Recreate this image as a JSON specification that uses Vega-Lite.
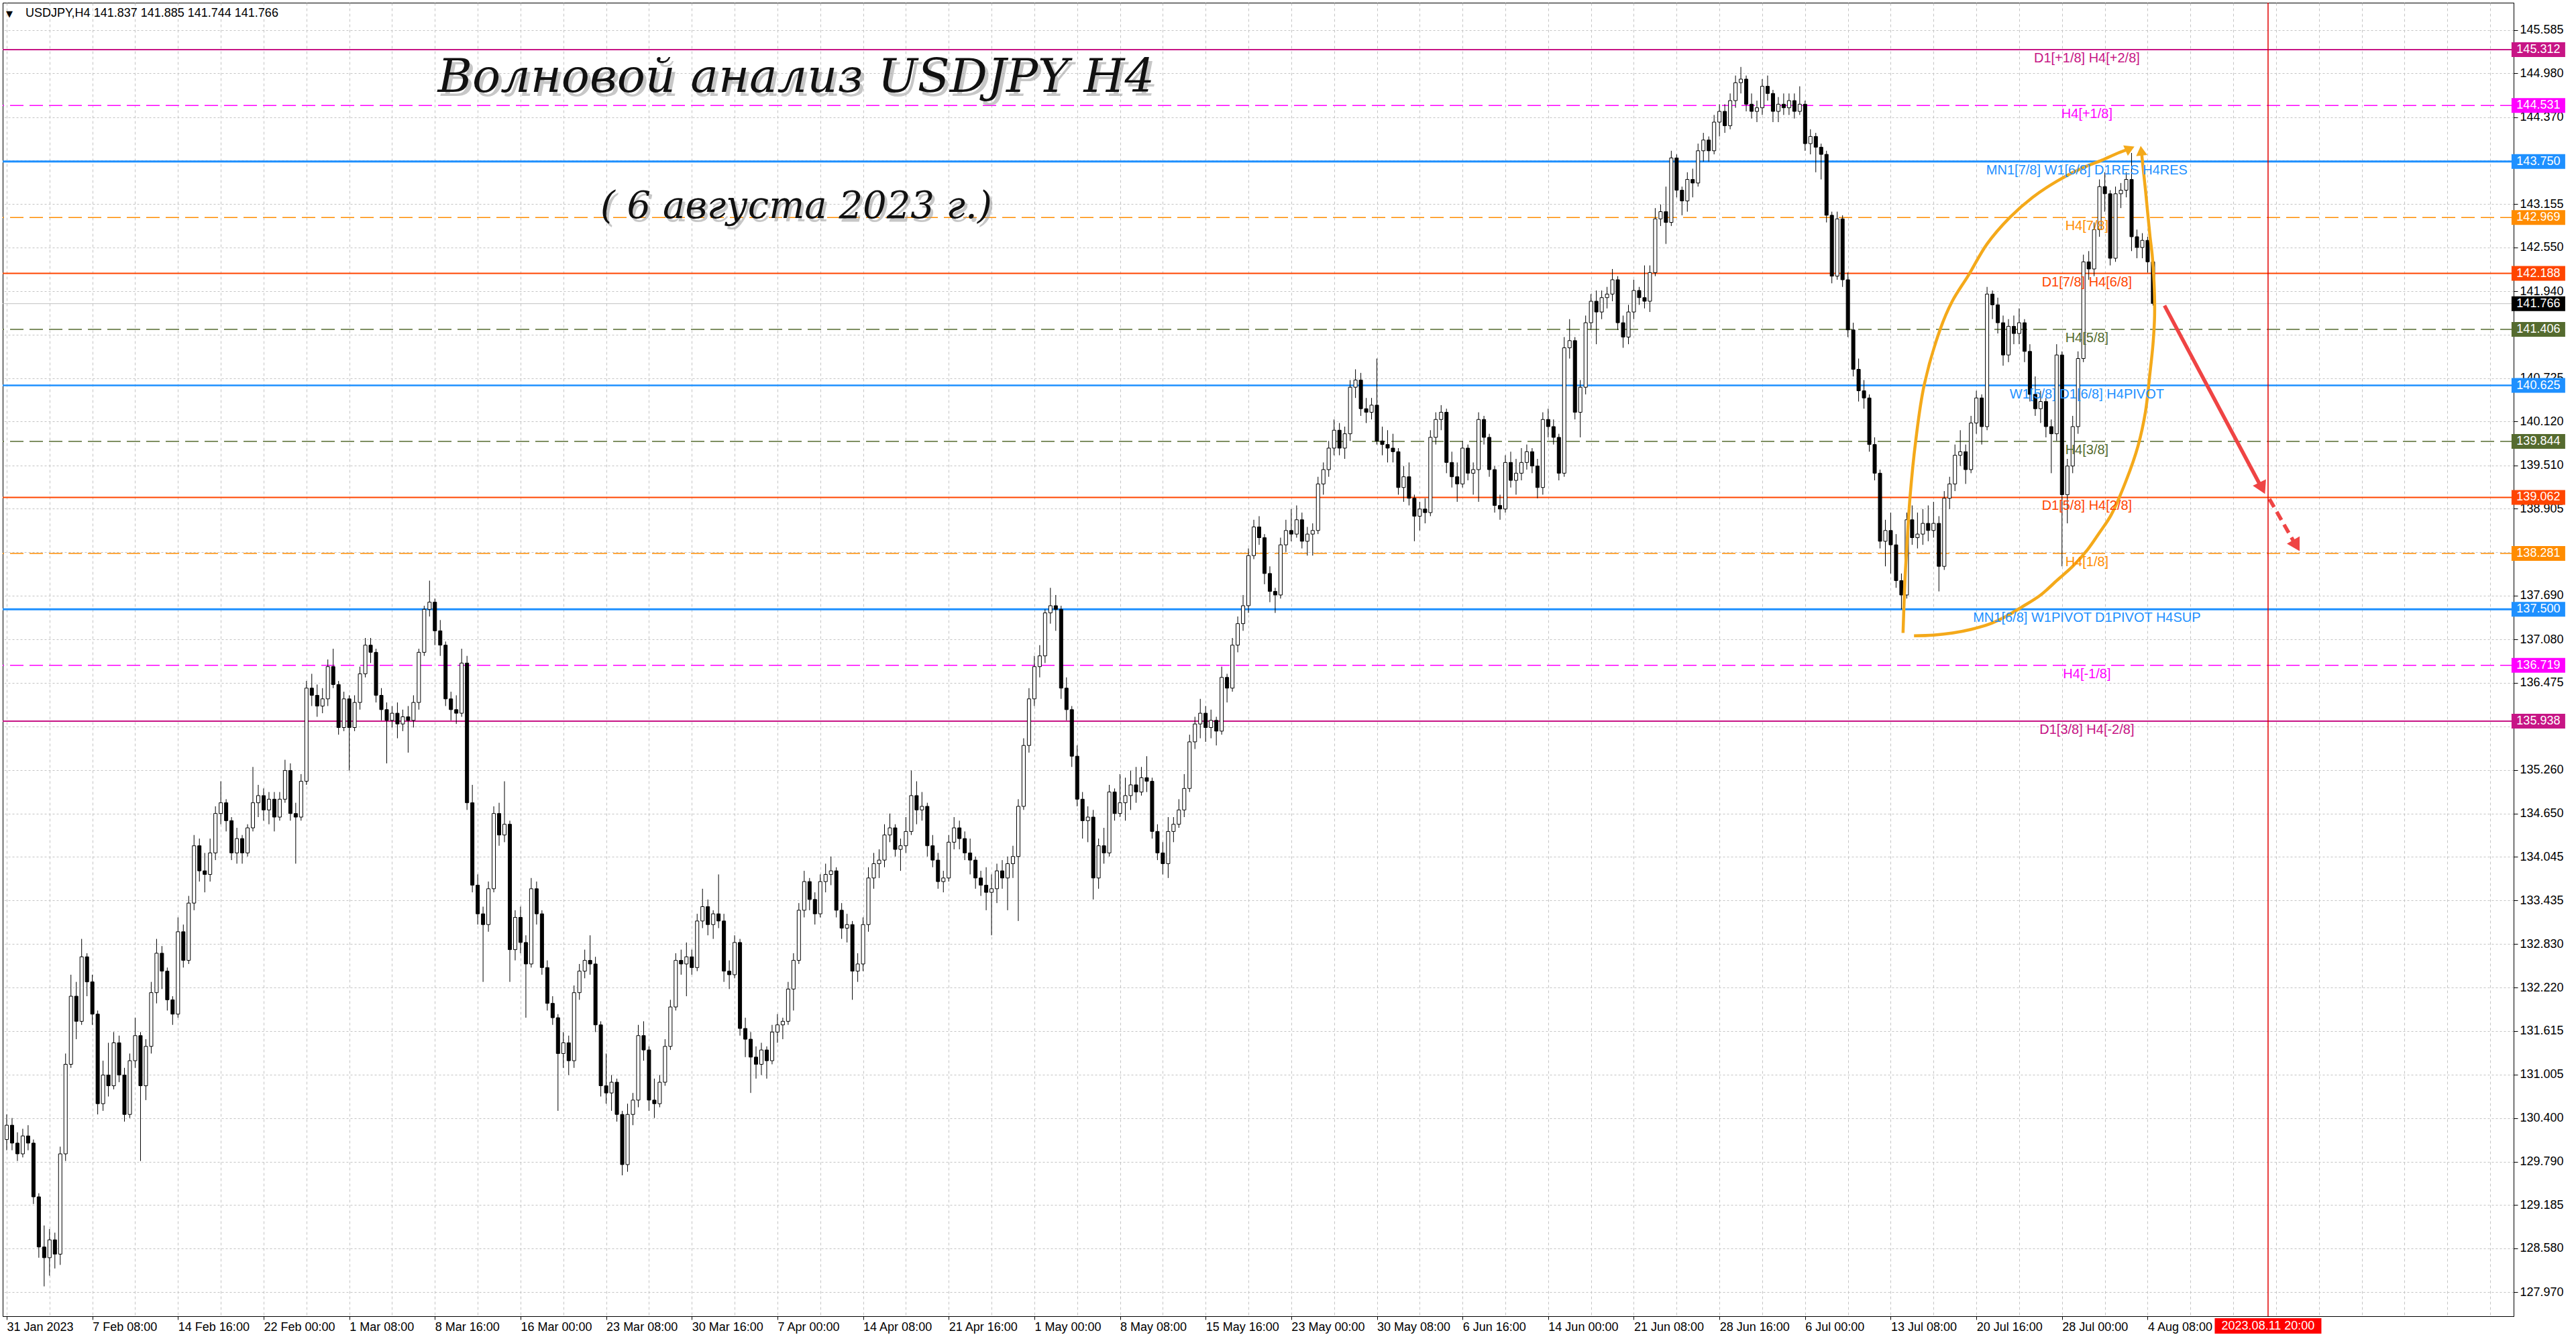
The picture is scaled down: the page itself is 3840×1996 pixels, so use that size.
{
  "$schema": "https://vega.github.io/schema/vega-lite/v6.json",
  "description": "USDJPY H4 wave analysis, 6 August 2023",
  "width": 3743,
  "height": 1958,
  "autosize": {"type": "none"},
  "padding": {"left": 4, "top": 4, "right": 93, "bottom": 34},
  "background": "#ffffff",
  "config": {
    "font": "Liberation Sans",
    "view": {"stroke": "#000000", "strokeWidth": 1}
  },
  "datasets": {
    "levels": [
      {"p": 145.312, "t": "D1[+1/8] H4[+2/8]", "tf": "D1"},
      {"p": 144.531, "t": "H4[+1/8]", "tf": "H4"},
      {"p": 143.750, "t": "MN1[7/8] W1[6/8] D1RES H4RES", "tf": "MN1"},
      {"p": 142.969, "t": "H4[7/8]", "tf": "H4"},
      {"p": 142.188, "t": "D1[7/8] H4[6/8]", "tf": "D1"},
      {"p": 141.406, "t": "H4[5/8]", "tf": "H4"},
      {"p": 140.625, "t": "W1[5/8] D1[6/8] H4PIVOT", "tf": "W1"},
      {"p": 139.844, "t": "H4[3/8]", "tf": "H4"},
      {"p": 139.062, "t": "D1[5/8] H4[2/8]", "tf": "D1"},
      {"p": 138.281, "t": "H4[1/8]", "tf": "H4"},
      {"p": 137.500, "t": "MN1[6/8] W1PIVOT D1PIVOT H4SUP", "tf": "MN1"},
      {"p": 136.719, "t": "H4[-1/8]", "tf": "H4"},
      {"p": 135.938, "t": "D1[3/8] H4[-2/8]", "tf": "D1"}
    ],
    "candles": [
      {"i":0,"o":130.10,"h":130.45,"l":129.95,"c":130.30},
      {"i":2,"o":130.30,"h":130.40,"l":129.95,"c":130.05},
      {"i":4,"o":130.05,"h":130.20,"l":129.80,"c":129.90},
      {"i":6,"o":129.90,"h":130.25,"l":129.85,"c":130.15},
      {"i":8,"o":130.15,"h":130.30,"l":129.95,"c":130.05},
      {"i":10,"o":130.05,"h":130.10,"l":129.20,"c":129.30},
      {"i":12,"o":129.30,"h":129.35,"l":128.45,"c":128.60},
      {"i":14,"o":128.60,"h":128.90,"l":128.05,"c":128.45},
      {"i":16,"o":128.45,"h":128.85,"l":128.20,"c":128.70},
      {"i":18,"o":128.70,"h":128.80,"l":128.30,"c":128.50},
      {"i":20,"o":128.50,"h":130.00,"l":128.35,"c":129.90},
      {"i":22,"o":129.90,"h":131.30,"l":129.80,"c":131.15},
      {"i":24,"o":131.15,"h":132.40,"l":131.10,"c":132.10},
      {"i":26,"o":132.10,"h":132.30,"l":131.50,"c":131.75},
      {"i":28,"o":131.75,"h":132.90,"l":131.70,"c":132.65},
      {"i":30,"o":132.65,"h":132.70,"l":132.10,"c":132.30},
      {"i":32,"o":132.30,"h":132.40,"l":131.70,"c":131.85},
      {"i":34,"o":131.85,"h":131.90,"l":130.45,"c":130.60},
      {"i":36,"o":130.60,"h":131.20,"l":130.50,"c":131.00},
      {"i":38,"o":131.00,"h":131.45,"l":130.70,"c":130.85},
      {"i":40,"o":130.85,"h":131.60,"l":130.80,"c":131.45},
      {"i":42,"o":131.45,"h":131.55,"l":130.90,"c":131.00},
      {"i":44,"o":131.00,"h":131.10,"l":130.35,"c":130.45},
      {"i":46,"o":130.45,"h":131.30,"l":130.40,"c":131.20},
      {"i":48,"o":131.20,"h":131.80,"l":131.10,"c":131.55},
      {"i":50,"o":131.55,"h":131.60,"l":129.80,"c":130.85},
      {"i":52,"o":130.85,"h":131.50,"l":130.65,"c":131.40},
      {"i":54,"o":131.40,"h":132.30,"l":131.30,"c":132.15},
      {"i":56,"o":132.15,"h":132.90,"l":132.00,"c":132.70},
      {"i":58,"o":132.70,"h":132.80,"l":132.20,"c":132.45},
      {"i":60,"o":132.45,"h":132.50,"l":131.90,"c":132.05},
      {"i":62,"o":132.05,"h":132.10,"l":131.70,"c":131.85},
      {"i":64,"o":131.85,"h":133.20,"l":131.80,"c":133.00},
      {"i":66,"o":133.00,"h":133.10,"l":132.50,"c":132.60},
      {"i":68,"o":132.60,"h":133.50,"l":132.55,"c":133.40},
      {"i":70,"o":133.40,"h":134.35,"l":133.30,"c":134.20},
      {"i":72,"o":134.20,"h":134.30,"l":133.70,"c":133.85},
      {"i":74,"o":133.85,"h":134.10,"l":133.55,"c":133.80},
      {"i":76,"o":133.80,"h":134.30,"l":133.70,"c":134.10},
      {"i":78,"o":134.10,"h":134.75,"l":134.00,"c":134.65},
      {"i":80,"o":134.65,"h":135.10,"l":134.50,"c":134.80},
      {"i":82,"o":134.80,"h":134.85,"l":134.40,"c":134.55},
      {"i":84,"o":134.55,"h":134.60,"l":134.00,"c":134.10},
      {"i":86,"o":134.10,"h":134.45,"l":133.95,"c":134.30},
      {"i":88,"o":134.30,"h":134.35,"l":133.95,"c":134.10},
      {"i":90,"o":134.10,"h":134.50,"l":134.05,"c":134.45},
      {"i":92,"o":134.45,"h":135.30,"l":134.40,"c":134.80},
      {"i":94,"o":134.80,"h":135.05,"l":134.60,"c":134.90},
      {"i":96,"o":134.90,"h":135.00,"l":134.55,"c":134.70},
      {"i":98,"o":134.70,"h":134.95,"l":134.50,"c":134.85},
      {"i":100,"o":134.85,"h":134.95,"l":134.40,"c":134.60},
      {"i":102,"o":134.60,"h":134.95,"l":134.55,"c":134.85},
      {"i":104,"o":134.85,"h":135.40,"l":134.80,"c":135.25},
      {"i":106,"o":135.25,"h":135.35,"l":134.55,"c":134.65},
      {"i":108,"o":134.65,"h":134.80,"l":133.95,"c":134.60},
      {"i":110,"o":134.60,"h":135.20,"l":134.55,"c":135.10},
      {"i":112,"o":135.10,"h":136.50,"l":135.05,"c":136.40},
      {"i":114,"o":136.40,"h":136.60,"l":136.15,"c":136.30},
      {"i":116,"o":136.30,"h":136.45,"l":136.00,"c":136.15},
      {"i":118,"o":136.15,"h":136.40,"l":136.05,"c":136.25},
      {"i":120,"o":136.25,"h":136.80,"l":136.15,"c":136.70},
      {"i":122,"o":136.70,"h":136.95,"l":136.40,"c":136.45},
      {"i":124,"o":136.45,"h":136.50,"l":135.75,"c":135.85},
      {"i":126,"o":135.85,"h":136.35,"l":135.80,"c":136.25},
      {"i":128,"o":136.25,"h":136.30,"l":135.25,"c":135.85},
      {"i":130,"o":135.85,"h":136.30,"l":135.80,"c":136.20},
      {"i":132,"o":136.20,"h":136.70,"l":136.10,"c":136.60},
      {"i":134,"o":136.60,"h":137.10,"l":136.55,"c":137.00},
      {"i":136,"o":137.00,"h":137.10,"l":136.75,"c":136.90},
      {"i":138,"o":136.90,"h":136.95,"l":136.20,"c":136.30},
      {"i":140,"o":136.30,"h":136.40,"l":135.95,"c":136.10},
      {"i":142,"o":136.10,"h":136.20,"l":135.35,"c":135.95},
      {"i":144,"o":135.95,"h":136.15,"l":135.85,"c":136.05},
      {"i":146,"o":136.05,"h":136.20,"l":135.70,"c":135.90},
      {"i":148,"o":135.90,"h":136.10,"l":135.80,"c":136.00},
      {"i":150,"o":136.00,"h":136.15,"l":135.50,"c":135.95},
      {"i":152,"o":135.95,"h":136.30,"l":135.85,"c":136.20},
      {"i":154,"o":136.20,"h":136.95,"l":136.10,"c":136.90},
      {"i":156,"o":136.90,"h":137.55,"l":136.85,"c":137.50},
      {"i":158,"o":137.50,"h":137.90,"l":137.40,"c":137.60},
      {"i":160,"o":137.60,"h":137.65,"l":137.00,"c":137.20},
      {"i":162,"o":137.20,"h":137.35,"l":136.85,"c":137.00},
      {"i":164,"o":137.00,"h":137.05,"l":136.15,"c":136.25},
      {"i":166,"o":136.25,"h":136.35,"l":135.95,"c":136.10},
      {"i":168,"o":136.10,"h":136.30,"l":135.90,"c":136.05},
      {"i":170,"o":136.05,"h":136.95,"l":136.00,"c":136.75},
      {"i":172,"o":136.75,"h":136.85,"l":134.70,"c":134.80},
      {"i":174,"o":134.80,"h":135.05,"l":133.55,"c":133.65},
      {"i":176,"o":133.65,"h":133.80,"l":133.10,"c":133.25},
      {"i":178,"o":133.25,"h":133.35,"l":132.30,"c":133.10},
      {"i":180,"o":133.10,"h":133.70,"l":133.00,"c":133.60},
      {"i":182,"o":133.60,"h":134.75,"l":133.55,"c":134.65},
      {"i":184,"o":134.65,"h":134.80,"l":134.20,"c":134.35},
      {"i":186,"o":134.35,"h":135.10,"l":134.25,"c":134.50},
      {"i":188,"o":134.50,"h":134.55,"l":132.30,"c":132.75},
      {"i":190,"o":132.75,"h":133.30,"l":132.60,"c":133.20},
      {"i":192,"o":133.20,"h":133.35,"l":132.70,"c":132.85},
      {"i":194,"o":132.85,"h":132.95,"l":131.80,"c":132.55},
      {"i":196,"o":132.55,"h":133.75,"l":132.50,"c":133.60},
      {"i":198,"o":133.60,"h":133.70,"l":133.10,"c":133.25},
      {"i":200,"o":133.25,"h":133.30,"l":132.40,"c":132.50},
      {"i":202,"o":132.50,"h":132.60,"l":131.90,"c":132.00},
      {"i":204,"o":132.00,"h":132.10,"l":131.70,"c":131.80},
      {"i":206,"o":131.80,"h":131.85,"l":130.50,"c":131.30},
      {"i":208,"o":131.30,"h":131.60,"l":131.10,"c":131.45},
      {"i":210,"o":131.45,"h":131.55,"l":131.00,"c":131.20},
      {"i":212,"o":131.20,"h":132.25,"l":131.10,"c":132.15},
      {"i":214,"o":132.15,"h":132.55,"l":132.05,"c":132.45},
      {"i":216,"o":132.45,"h":132.75,"l":132.35,"c":132.60},
      {"i":218,"o":132.60,"h":132.95,"l":132.40,"c":132.55},
      {"i":220,"o":132.55,"h":132.65,"l":131.60,"c":131.70},
      {"i":222,"o":131.70,"h":131.75,"l":130.70,"c":130.85},
      {"i":224,"o":130.85,"h":131.30,"l":130.60,"c":130.75},
      {"i":226,"o":130.75,"h":131.00,"l":130.50,"c":130.90},
      {"i":228,"o":130.90,"h":130.95,"l":130.35,"c":130.45},
      {"i":230,"o":130.45,"h":130.50,"l":129.60,"c":129.75},
      {"i":232,"o":129.75,"h":130.60,"l":129.65,"c":130.45},
      {"i":234,"o":130.45,"h":130.75,"l":130.30,"c":130.65},
      {"i":236,"o":130.65,"h":131.70,"l":130.55,"c":131.55},
      {"i":238,"o":131.55,"h":131.75,"l":131.20,"c":131.35},
      {"i":240,"o":131.35,"h":131.40,"l":130.50,"c":130.65},
      {"i":242,"o":130.65,"h":130.95,"l":130.40,"c":130.60},
      {"i":244,"o":130.60,"h":131.00,"l":130.55,"c":130.90},
      {"i":246,"o":130.90,"h":131.50,"l":130.85,"c":131.40},
      {"i":248,"o":131.40,"h":132.05,"l":131.35,"c":131.95},
      {"i":250,"o":131.95,"h":132.70,"l":131.90,"c":132.60},
      {"i":252,"o":132.60,"h":132.75,"l":132.40,"c":132.55},
      {"i":254,"o":132.55,"h":132.85,"l":132.10,"c":132.65},
      {"i":256,"o":132.65,"h":132.75,"l":132.40,"c":132.50},
      {"i":258,"o":132.50,"h":133.25,"l":132.45,"c":133.15},
      {"i":260,"o":133.15,"h":133.60,"l":133.05,"c":133.35},
      {"i":262,"o":133.35,"h":133.45,"l":132.95,"c":133.10},
      {"i":264,"o":133.10,"h":133.30,"l":132.90,"c":133.25},
      {"i":266,"o":133.25,"h":133.80,"l":133.05,"c":133.15},
      {"i":268,"o":133.15,"h":133.25,"l":132.30,"c":132.45},
      {"i":270,"o":132.45,"h":132.60,"l":132.20,"c":132.40},
      {"i":272,"o":132.40,"h":132.95,"l":132.35,"c":132.85},
      {"i":274,"o":132.85,"h":132.90,"l":131.55,"c":131.65},
      {"i":276,"o":131.65,"h":131.80,"l":131.25,"c":131.50},
      {"i":278,"o":131.50,"h":131.60,"l":130.75,"c":131.25},
      {"i":280,"o":131.25,"h":131.40,"l":130.95,"c":131.15},
      {"i":282,"o":131.15,"h":131.45,"l":131.00,"c":131.35},
      {"i":284,"o":131.35,"h":131.40,"l":130.95,"c":131.20},
      {"i":286,"o":131.20,"h":131.70,"l":131.15,"c":131.60},
      {"i":288,"o":131.60,"h":131.85,"l":131.45,"c":131.70},
      {"i":290,"o":131.70,"h":131.80,"l":131.50,"c":131.75},
      {"i":292,"o":131.75,"h":132.30,"l":131.70,"c":132.20},
      {"i":294,"o":132.20,"h":132.70,"l":131.90,"c":132.60},
      {"i":296,"o":132.60,"h":133.40,"l":132.55,"c":133.30},
      {"i":298,"o":133.30,"h":133.85,"l":133.20,"c":133.70},
      {"i":300,"o":133.70,"h":133.75,"l":133.30,"c":133.45},
      {"i":302,"o":133.45,"h":133.55,"l":133.10,"c":133.25},
      {"i":304,"o":133.25,"h":133.80,"l":133.20,"c":133.70},
      {"i":306,"o":133.70,"h":133.95,"l":133.55,"c":133.80},
      {"i":308,"o":133.80,"h":134.05,"l":133.65,"c":133.85},
      {"i":310,"o":133.85,"h":133.90,"l":133.20,"c":133.30},
      {"i":312,"o":133.30,"h":133.40,"l":132.90,"c":133.05},
      {"i":314,"o":133.05,"h":133.25,"l":132.85,"c":133.10},
      {"i":316,"o":133.10,"h":133.15,"l":132.05,"c":132.45},
      {"i":318,"o":132.45,"h":132.70,"l":132.30,"c":132.55},
      {"i":320,"o":132.55,"h":133.20,"l":132.45,"c":133.10},
      {"i":322,"o":133.10,"h":133.90,"l":133.00,"c":133.75},
      {"i":324,"o":133.75,"h":134.10,"l":133.60,"c":133.95},
      {"i":326,"o":133.95,"h":134.15,"l":133.75,"c":134.00},
      {"i":328,"o":134.00,"h":134.50,"l":133.90,"c":134.35},
      {"i":330,"o":134.35,"h":134.65,"l":134.25,"c":134.45},
      {"i":332,"o":134.45,"h":134.50,"l":134.05,"c":134.15},
      {"i":334,"o":134.15,"h":134.30,"l":133.85,"c":134.20},
      {"i":336,"o":134.20,"h":134.60,"l":134.10,"c":134.40},
      {"i":338,"o":134.40,"h":135.25,"l":134.35,"c":134.90},
      {"i":340,"o":134.90,"h":135.10,"l":134.50,"c":134.70},
      {"i":342,"o":134.70,"h":134.95,"l":134.55,"c":134.75},
      {"i":344,"o":134.75,"h":134.80,"l":134.05,"c":134.20},
      {"i":346,"o":134.20,"h":134.35,"l":133.90,"c":134.00},
      {"i":348,"o":134.00,"h":134.10,"l":133.60,"c":133.70},
      {"i":350,"o":133.70,"h":133.85,"l":133.55,"c":133.75},
      {"i":352,"o":133.75,"h":134.35,"l":133.70,"c":134.25},
      {"i":354,"o":134.25,"h":134.60,"l":134.15,"c":134.45},
      {"i":356,"o":134.45,"h":134.55,"l":134.15,"c":134.30},
      {"i":358,"o":134.30,"h":134.40,"l":134.00,"c":134.10},
      {"i":360,"o":134.10,"h":134.30,"l":133.80,"c":134.00},
      {"i":362,"o":134.00,"h":134.05,"l":133.60,"c":133.75},
      {"i":364,"o":133.75,"h":133.85,"l":133.50,"c":133.65},
      {"i":366,"o":133.65,"h":133.90,"l":133.30,"c":133.55},
      {"i":368,"o":133.55,"h":133.80,"l":132.95,"c":133.60},
      {"i":370,"o":133.60,"h":133.95,"l":133.40,"c":133.85},
      {"i":372,"o":133.85,"h":134.00,"l":133.60,"c":133.75},
      {"i":374,"o":133.75,"h":134.05,"l":133.30,"c":133.95},
      {"i":376,"o":133.95,"h":134.20,"l":133.75,"c":134.05},
      {"i":378,"o":134.05,"h":134.85,"l":133.15,"c":134.75},
      {"i":380,"o":134.75,"h":135.70,"l":134.70,"c":135.60},
      {"i":382,"o":135.60,"h":136.40,"l":135.50,"c":136.25},
      {"i":384,"o":136.25,"h":136.85,"l":136.15,"c":136.70},
      {"i":386,"o":136.70,"h":137.00,"l":136.55,"c":136.85},
      {"i":388,"o":136.85,"h":137.50,"l":136.75,"c":137.45},
      {"i":390,"o":137.45,"h":137.80,"l":137.30,"c":137.55},
      {"i":392,"o":137.55,"h":137.70,"l":137.20,"c":137.50},
      {"i":394,"o":137.50,"h":137.55,"l":136.25,"c":136.40},
      {"i":396,"o":136.40,"h":136.55,"l":135.95,"c":136.10},
      {"i":398,"o":136.10,"h":136.15,"l":135.30,"c":135.45},
      {"i":400,"o":135.45,"h":135.60,"l":134.75,"c":134.85},
      {"i":402,"o":134.85,"h":134.95,"l":134.30,"c":134.55},
      {"i":404,"o":134.55,"h":134.75,"l":134.25,"c":134.60},
      {"i":406,"o":134.60,"h":134.70,"l":133.45,"c":133.75},
      {"i":408,"o":133.75,"h":134.30,"l":133.60,"c":134.20},
      {"i":410,"o":134.20,"h":134.45,"l":133.95,"c":134.10},
      {"i":412,"o":134.10,"h":135.05,"l":134.05,"c":134.95},
      {"i":414,"o":134.95,"h":135.00,"l":134.55,"c":134.65},
      {"i":416,"o":134.65,"h":135.20,"l":134.60,"c":134.80},
      {"i":418,"o":134.80,"h":135.15,"l":134.55,"c":134.90},
      {"i":420,"o":134.90,"h":135.25,"l":134.70,"c":135.05},
      {"i":422,"o":135.05,"h":135.30,"l":134.80,"c":134.95},
      {"i":424,"o":134.95,"h":135.30,"l":134.90,"c":135.15},
      {"i":426,"o":135.15,"h":135.45,"l":134.95,"c":135.10},
      {"i":428,"o":135.10,"h":135.15,"l":134.30,"c":134.40},
      {"i":430,"o":134.40,"h":134.50,"l":134.00,"c":134.10},
      {"i":432,"o":134.10,"h":134.25,"l":133.80,"c":133.95},
      {"i":434,"o":133.95,"h":134.60,"l":133.75,"c":134.40},
      {"i":436,"o":134.40,"h":134.60,"l":134.25,"c":134.50},
      {"i":438,"o":134.50,"h":134.85,"l":134.45,"c":134.70},
      {"i":440,"o":134.70,"h":135.20,"l":134.60,"c":135.00},
      {"i":442,"o":135.00,"h":135.75,"l":134.95,"c":135.65},
      {"i":444,"o":135.65,"h":136.00,"l":135.55,"c":135.90},
      {"i":446,"o":135.90,"h":136.25,"l":135.70,"c":136.05},
      {"i":448,"o":136.05,"h":136.15,"l":135.65,"c":135.85},
      {"i":450,"o":135.85,"h":136.10,"l":135.70,"c":135.95},
      {"i":452,"o":135.95,"h":136.00,"l":135.60,"c":135.80},
      {"i":454,"o":135.80,"h":136.70,"l":135.75,"c":136.55},
      {"i":456,"o":136.55,"h":136.60,"l":136.20,"c":136.40},
      {"i":458,"o":136.40,"h":137.10,"l":136.35,"c":137.00},
      {"i":460,"o":137.00,"h":137.40,"l":136.90,"c":137.30},
      {"i":462,"o":137.30,"h":137.70,"l":137.20,"c":137.55},
      {"i":464,"o":137.55,"h":138.35,"l":137.45,"c":138.25},
      {"i":466,"o":138.25,"h":138.75,"l":138.20,"c":138.65},
      {"i":468,"o":138.65,"h":138.80,"l":138.40,"c":138.50},
      {"i":470,"o":138.50,"h":138.55,"l":137.85,"c":138.00},
      {"i":472,"o":138.00,"h":138.10,"l":137.60,"c":137.75},
      {"i":474,"o":137.75,"h":137.80,"l":137.45,"c":137.70},
      {"i":476,"o":137.70,"h":138.50,"l":137.65,"c":138.40},
      {"i":478,"o":138.40,"h":138.75,"l":138.30,"c":138.60},
      {"i":480,"o":138.60,"h":138.90,"l":138.45,"c":138.55},
      {"i":482,"o":138.55,"h":138.95,"l":138.50,"c":138.75},
      {"i":484,"o":138.75,"h":138.85,"l":138.35,"c":138.45},
      {"i":486,"o":138.45,"h":138.65,"l":138.25,"c":138.55},
      {"i":488,"o":138.55,"h":138.70,"l":138.25,"c":138.60},
      {"i":490,"o":138.60,"h":139.35,"l":138.55,"c":139.25},
      {"i":492,"o":139.25,"h":139.55,"l":139.10,"c":139.45},
      {"i":494,"o":139.45,"h":139.85,"l":139.35,"c":139.75},
      {"i":496,"o":139.75,"h":140.15,"l":139.65,"c":140.00},
      {"i":498,"o":140.00,"h":140.10,"l":139.65,"c":139.75},
      {"i":500,"o":139.75,"h":140.05,"l":139.60,"c":139.95},
      {"i":502,"o":139.95,"h":140.70,"l":139.85,"c":140.60},
      {"i":504,"o":140.60,"h":140.85,"l":140.45,"c":140.70},
      {"i":506,"o":140.70,"h":140.80,"l":140.20,"c":140.30},
      {"i":508,"o":140.30,"h":140.45,"l":140.10,"c":140.25},
      {"i":510,"o":140.25,"h":140.45,"l":140.15,"c":140.35},
      {"i":512,"o":140.35,"h":141.00,"l":139.80,"c":139.85},
      {"i":514,"o":139.85,"h":140.05,"l":139.65,"c":139.80},
      {"i":516,"o":139.80,"h":140.00,"l":139.55,"c":139.75},
      {"i":518,"o":139.75,"h":139.95,"l":139.55,"c":139.70},
      {"i":520,"o":139.70,"h":139.75,"l":139.10,"c":139.20},
      {"i":522,"o":139.20,"h":139.50,"l":139.00,"c":139.35},
      {"i":524,"o":139.35,"h":139.55,"l":138.95,"c":139.05},
      {"i":526,"o":139.05,"h":139.10,"l":138.45,"c":138.80},
      {"i":528,"o":138.80,"h":139.00,"l":138.60,"c":138.90},
      {"i":530,"o":138.90,"h":139.05,"l":138.70,"c":138.85},
      {"i":532,"o":138.85,"h":140.00,"l":138.80,"c":139.90},
      {"i":534,"o":139.90,"h":140.25,"l":139.80,"c":140.15},
      {"i":536,"o":140.15,"h":140.35,"l":140.00,"c":140.25},
      {"i":538,"o":140.25,"h":140.30,"l":139.40,"c":139.55},
      {"i":540,"o":139.55,"h":139.70,"l":139.20,"c":139.35},
      {"i":542,"o":139.35,"h":139.55,"l":139.00,"c":139.25},
      {"i":544,"o":139.25,"h":139.85,"l":139.20,"c":139.75},
      {"i":546,"o":139.75,"h":139.80,"l":139.30,"c":139.40},
      {"i":548,"o":139.40,"h":139.55,"l":139.10,"c":139.45},
      {"i":550,"o":139.45,"h":140.25,"l":139.00,"c":140.15},
      {"i":552,"o":140.15,"h":140.20,"l":139.80,"c":139.90},
      {"i":554,"o":139.90,"h":139.95,"l":139.35,"c":139.45},
      {"i":556,"o":139.45,"h":139.50,"l":138.85,"c":138.95},
      {"i":558,"o":138.95,"h":139.10,"l":138.75,"c":138.90},
      {"i":560,"o":138.90,"h":139.65,"l":138.85,"c":139.55},
      {"i":562,"o":139.55,"h":139.70,"l":139.20,"c":139.30},
      {"i":564,"o":139.30,"h":139.60,"l":139.10,"c":139.40},
      {"i":566,"o":139.40,"h":139.75,"l":139.30,"c":139.55},
      {"i":568,"o":139.55,"h":139.80,"l":139.45,"c":139.70},
      {"i":570,"o":139.70,"h":139.75,"l":139.40,"c":139.50},
      {"i":572,"o":139.50,"h":139.60,"l":139.05,"c":139.20},
      {"i":574,"o":139.20,"h":140.25,"l":139.10,"c":140.15},
      {"i":576,"o":140.15,"h":140.30,"l":139.90,"c":140.05},
      {"i":578,"o":140.05,"h":140.15,"l":139.80,"c":139.90},
      {"i":580,"o":139.90,"h":139.95,"l":139.30,"c":139.40},
      {"i":582,"o":139.40,"h":141.30,"l":139.35,"c":141.15},
      {"i":584,"o":141.15,"h":141.55,"l":141.00,"c":141.25},
      {"i":586,"o":141.25,"h":141.30,"l":140.15,"c":140.25},
      {"i":588,"o":140.25,"h":140.70,"l":139.90,"c":140.60},
      {"i":590,"o":140.60,"h":141.60,"l":140.50,"c":141.50},
      {"i":592,"o":141.50,"h":141.90,"l":141.40,"c":141.80},
      {"i":594,"o":141.80,"h":141.95,"l":141.20,"c":141.65},
      {"i":596,"o":141.65,"h":141.95,"l":141.55,"c":141.85},
      {"i":598,"o":141.85,"h":142.00,"l":141.70,"c":141.90},
      {"i":600,"o":141.90,"h":142.25,"l":141.80,"c":142.10},
      {"i":602,"o":142.10,"h":142.15,"l":141.40,"c":141.50},
      {"i":604,"o":141.50,"h":141.60,"l":141.15,"c":141.30},
      {"i":606,"o":141.30,"h":141.75,"l":141.20,"c":141.65},
      {"i":608,"o":141.65,"h":142.10,"l":141.55,"c":141.95},
      {"i":610,"o":141.95,"h":142.00,"l":141.75,"c":141.85},
      {"i":612,"o":141.85,"h":142.30,"l":141.70,"c":141.80},
      {"i":614,"o":141.80,"h":142.30,"l":141.65,"c":142.20},
      {"i":616,"o":142.20,"h":143.10,"l":142.15,"c":142.95},
      {"i":618,"o":142.95,"h":143.15,"l":142.85,"c":143.05},
      {"i":620,"o":143.05,"h":143.40,"l":142.60,"c":142.90},
      {"i":622,"o":142.90,"h":143.90,"l":142.85,"c":143.80},
      {"i":624,"o":143.80,"h":143.85,"l":143.25,"c":143.35},
      {"i":626,"o":143.35,"h":143.40,"l":143.00,"c":143.20},
      {"i":628,"o":143.20,"h":143.60,"l":143.05,"c":143.50},
      {"i":630,"o":143.50,"h":143.65,"l":143.25,"c":143.45},
      {"i":632,"o":143.45,"h":144.00,"l":143.40,"c":143.90},
      {"i":634,"o":143.90,"h":144.15,"l":143.75,"c":144.05},
      {"i":636,"o":144.05,"h":144.10,"l":143.75,"c":143.90},
      {"i":638,"o":143.90,"h":144.40,"l":143.85,"c":144.30},
      {"i":640,"o":144.30,"h":144.55,"l":144.10,"c":144.45},
      {"i":642,"o":144.45,"h":144.55,"l":144.15,"c":144.25},
      {"i":644,"o":144.25,"h":144.70,"l":144.20,"c":144.60},
      {"i":646,"o":144.60,"h":144.95,"l":144.50,"c":144.85},
      {"i":648,"o":144.85,"h":145.07,"l":144.70,"c":144.90},
      {"i":650,"o":144.90,"h":144.95,"l":144.45,"c":144.55},
      {"i":652,"o":144.55,"h":144.70,"l":144.35,"c":144.45},
      {"i":654,"o":144.45,"h":144.60,"l":144.30,"c":144.50},
      {"i":656,"o":144.50,"h":144.90,"l":144.40,"c":144.80},
      {"i":658,"o":144.80,"h":144.95,"l":144.60,"c":144.70},
      {"i":660,"o":144.70,"h":144.75,"l":144.30,"c":144.45},
      {"i":662,"o":144.45,"h":144.65,"l":144.30,"c":144.55},
      {"i":664,"o":144.55,"h":144.70,"l":144.40,"c":144.50},
      {"i":666,"o":144.50,"h":144.70,"l":144.40,"c":144.60},
      {"i":668,"o":144.60,"h":144.70,"l":144.35,"c":144.45},
      {"i":670,"o":144.45,"h":144.80,"l":144.40,"c":144.55},
      {"i":672,"o":144.55,"h":144.60,"l":143.90,"c":144.00},
      {"i":674,"o":144.00,"h":144.20,"l":143.85,"c":144.10},
      {"i":676,"o":144.10,"h":144.15,"l":143.60,"c":143.95},
      {"i":678,"o":143.95,"h":144.00,"l":143.50,"c":143.85},
      {"i":680,"o":143.85,"h":143.90,"l":142.90,"c":143.00},
      {"i":682,"o":143.00,"h":143.05,"l":142.05,"c":142.15},
      {"i":684,"o":142.15,"h":143.05,"l":142.10,"c":142.95},
      {"i":686,"o":142.95,"h":143.00,"l":142.00,"c":142.10},
      {"i":688,"o":142.10,"h":142.20,"l":141.30,"c":141.40},
      {"i":690,"o":141.40,"h":141.50,"l":140.75,"c":140.85},
      {"i":692,"o":140.85,"h":141.00,"l":140.40,"c":140.55},
      {"i":694,"o":140.55,"h":140.70,"l":140.30,"c":140.45},
      {"i":696,"o":140.45,"h":140.50,"l":139.70,"c":139.80},
      {"i":698,"o":139.80,"h":139.90,"l":139.30,"c":139.40},
      {"i":700,"o":139.40,"h":139.45,"l":138.35,"c":138.45},
      {"i":702,"o":138.45,"h":138.75,"l":138.10,"c":138.60},
      {"i":704,"o":138.60,"h":138.85,"l":138.00,"c":138.40},
      {"i":706,"o":138.40,"h":138.55,"l":137.80,"c":137.90},
      {"i":708,"o":137.90,"h":138.00,"l":137.50,"c":137.70},
      {"i":710,"o":137.70,"h":138.85,"l":137.65,"c":138.75},
      {"i":712,"o":138.75,"h":138.95,"l":138.40,"c":138.50},
      {"i":714,"o":138.50,"h":138.85,"l":138.35,"c":138.55},
      {"i":716,"o":138.55,"h":138.90,"l":138.40,"c":138.70},
      {"i":718,"o":138.70,"h":138.95,"l":138.45,"c":138.60},
      {"i":720,"o":138.60,"h":139.00,"l":138.50,"c":138.70},
      {"i":722,"o":138.70,"h":138.80,"l":137.75,"c":138.10},
      {"i":724,"o":138.10,"h":139.15,"l":138.05,"c":139.05},
      {"i":726,"o":139.05,"h":139.35,"l":138.90,"c":139.25},
      {"i":728,"o":139.25,"h":139.80,"l":139.15,"c":139.65},
      {"i":730,"o":139.65,"h":140.00,"l":139.50,"c":139.70},
      {"i":732,"o":139.70,"h":139.80,"l":139.25,"c":139.45},
      {"i":734,"o":139.45,"h":140.20,"l":139.40,"c":140.10},
      {"i":736,"o":140.10,"h":140.55,"l":139.95,"c":140.45},
      {"i":738,"o":140.45,"h":140.50,"l":139.80,"c":140.05},
      {"i":740,"o":140.05,"h":142.00,"l":140.00,"c":141.90},
      {"i":742,"o":141.90,"h":141.95,"l":141.55,"c":141.75},
      {"i":744,"o":141.75,"h":141.85,"l":141.35,"c":141.50},
      {"i":746,"o":141.50,"h":141.60,"l":140.90,"c":141.05},
      {"i":748,"o":141.05,"h":141.55,"l":140.95,"c":141.45},
      {"i":750,"o":141.45,"h":141.60,"l":141.20,"c":141.35},
      {"i":752,"o":141.35,"h":141.70,"l":141.20,"c":141.50},
      {"i":754,"o":141.50,"h":141.55,"l":140.95,"c":141.10},
      {"i":756,"o":141.10,"h":141.20,"l":140.40,"c":140.50},
      {"i":758,"o":140.50,"h":140.75,"l":140.20,"c":140.30},
      {"i":760,"o":140.30,"h":140.55,"l":140.10,"c":140.40},
      {"i":762,"o":140.40,"h":140.45,"l":139.90,"c":140.05},
      {"i":764,"o":140.05,"h":140.15,"l":139.40,"c":139.95},
      {"i":766,"o":139.95,"h":141.20,"l":139.85,"c":141.05},
      {"i":768,"o":141.05,"h":141.10,"l":138.10,"c":139.10},
      {"i":770,"o":139.10,"h":139.60,"l":138.70,"c":139.50},
      {"i":772,"o":139.50,"h":140.20,"l":139.40,"c":140.05},
      {"i":774,"o":140.05,"h":141.10,"l":139.95,"c":141.00},
      {"i":776,"o":141.00,"h":142.45,"l":140.95,"c":142.35},
      {"i":778,"o":142.35,"h":142.50,"l":142.10,"c":142.25},
      {"i":780,"o":142.25,"h":142.90,"l":142.15,"c":142.80},
      {"i":782,"o":142.80,"h":143.50,"l":142.70,"c":143.40},
      {"i":784,"o":143.40,"h":143.60,"l":143.05,"c":143.30},
      {"i":786,"o":143.30,"h":143.35,"l":142.30,"c":142.40},
      {"i":788,"o":142.40,"h":143.40,"l":142.35,"c":143.30},
      {"i":790,"o":143.30,"h":143.45,"l":143.10,"c":143.35},
      {"i":792,"o":143.35,"h":143.60,"l":143.25,"c":143.50},
      {"i":794,"o":143.50,"h":143.87,"l":142.50,"c":142.70},
      {"i":796,"o":142.70,"h":142.80,"l":142.40,"c":142.55},
      {"i":798,"o":142.55,"h":142.75,"l":142.40,"c":142.65},
      {"i":800,"o":142.65,"h":142.70,"l":142.20,"c":142.35},
      {"i":802,"o":142.35,"h":142.40,"l":141.74,"c":141.77}
    ],
    "arcs": [
      {"s": "a", "k": 1, "i": 708.6, "p": 137.17},
      {"s": "a", "k": 2, "i": 709.3, "p": 137.90},
      {"s": "a", "k": 3, "i": 709.9, "p": 138.30},
      {"s": "a", "k": 4, "i": 711.2, "p": 139.06},
      {"s": "a", "k": 5, "i": 713.3, "p": 139.84},
      {"s": "a", "k": 6, "i": 716.5, "p": 140.63},
      {"s": "a", "k": 7, "i": 722.5, "p": 141.41},
      {"s": "a", "k": 8, "i": 727.0, "p": 141.80},
      {"s": "a", "k": 9, "i": 733.0, "p": 142.16},
      {"s": "a", "k": 10, "i": 740.0, "p": 142.60},
      {"s": "a", "k": 11, "i": 748.5, "p": 142.97},
      {"s": "a", "k": 12, "i": 757.0, "p": 143.25},
      {"s": "a", "k": 13, "i": 766.3, "p": 143.48},
      {"s": "a", "k": 14, "i": 775.0, "p": 143.65},
      {"s": "a", "k": 15, "i": 783.0, "p": 143.77},
      {"s": "a", "k": 16, "i": 789.0, "p": 143.87},
      {"s": "a", "k": 17, "i": 793.5, "p": 143.93},
      {"s": "b", "k": 1, "i": 712.7, "p": 137.13},
      {"s": "b", "k": 2, "i": 720.0, "p": 137.14},
      {"s": "b", "k": 3, "i": 727.2, "p": 137.17},
      {"s": "b", "k": 4, "i": 734.0, "p": 137.22},
      {"s": "b", "k": 5, "i": 740.6, "p": 137.29},
      {"s": "b", "k": 6, "i": 747.0, "p": 137.40},
      {"s": "b", "k": 7, "i": 752.9, "p": 137.53},
      {"s": "b", "k": 8, "i": 760.0, "p": 137.70},
      {"s": "b", "k": 9, "i": 766.3, "p": 137.91},
      {"s": "b", "k": 10, "i": 772.0, "p": 138.10},
      {"s": "b", "k": 11, "i": 777.5, "p": 138.33},
      {"s": "b", "k": 12, "i": 782.0, "p": 138.57},
      {"s": "b", "k": 13, "i": 786.4, "p": 138.82},
      {"s": "b", "k": 14, "i": 792.0, "p": 139.30},
      {"s": "b", "k": 15, "i": 796.4, "p": 139.78},
      {"s": "b", "k": 16, "i": 799.2, "p": 140.26},
      {"s": "b", "k": 17, "i": 800.7, "p": 140.74},
      {"s": "b", "k": 18, "i": 802.0, "p": 141.20},
      {"s": "b", "k": 19, "i": 802.6, "p": 141.60},
      {"s": "b", "k": 20, "i": 802.4, "p": 142.06},
      {"s": "b", "k": 21, "i": 801.7, "p": 142.45},
      {"s": "b", "k": 22, "i": 800.9, "p": 142.70},
      {"s": "b", "k": 23, "i": 799.2, "p": 143.35},
      {"s": "b", "k": 24, "i": 798.2, "p": 143.70},
      {"s": "b", "k": 25, "i": 797.7, "p": 143.89}
    ]
  },
  "layer": [
    {
      "data": {"name": "levels"},
      "mark": {"type": "rule"},
      "encoding": {
        "y": {
          "field": "p",
          "type": "quantitative",
          "scale": {"domain": [127.634, 145.967], "nice": false, "zero": false},
          "axis": {
            "orient": "right",
            "title": null,
            "values": [127.970, 128.580, 129.185, 129.790, 130.400, 131.005, 131.615, 132.220, 132.830, 133.435, 134.045, 134.650, 135.260, 135.865, 136.475, 137.080, 137.690, 138.295, 138.905, 139.510, 140.120, 140.725, 141.335, 141.940, 142.550, 143.155, 143.765, 144.370, 144.980, 145.585],
            "labelExpr": "datum.value === 141.335 || datum.value === 135.865 ? '' : format(datum.value, '.3f')",
            "grid": true,
            "gridColor": "#c4c4c4",
            "gridDash": [3, 3],
            "gridWidth": 1,
            "domainColor": "#000000",
            "domainWidth": 1,
            "tickColor": "#000000",
            "tickSize": 6,
            "labelPadding": 3,
            "labelFont": "Liberation Sans",
            "labelFontSize": 18,
            "labelColor": "#000000",
            "labelAlign": "left",
            "labelBaseline": "middle",
            "labelOverlap": false,
            "labelFlush": false,
            "labelBound": false
          }
        },
        "color": {
          "field": "t",
          "type": "nominal",
          "scale": {
            "domain": ["D1[+1/8] H4[+2/8]", "H4[+1/8]", "MN1[7/8] W1[6/8] D1RES H4RES", "H4[7/8]", "D1[7/8] H4[6/8]", "H4[5/8]", "W1[5/8] D1[6/8] H4PIVOT", "H4[3/8]", "D1[5/8] H4[2/8]", "H4[1/8]", "MN1[6/8] W1PIVOT D1PIVOT H4SUP", "H4[-1/8]", "D1[3/8] H4[-2/8]"],
            "range": ["#c71585", "#ff00ff", "#1e90ff", "#ff8c00", "#ff4500", "#556b2f", "#1e90ff", "#556b2f", "#ff4500", "#ff8c00", "#1e90ff", "#ff00ff", "#c71585"]
          },
          "legend": null
        },
        "strokeDash": {
          "field": "tf",
          "type": "nominal",
          "scale": {"domain": ["MN1", "W1", "D1", "H4"], "range": [[1, 0], [1, 0], [1, 0], [20, 9]]},
          "legend": null
        },
        "strokeWidth": {
          "field": "tf",
          "type": "ordinal",
          "scale": {"domain": ["MN1", "W1", "D1", "H4"], "range": [3, 1.5, 1.5, 1.5]},
          "legend": null
        }
      }
    },
    {
      "data": {"values": [{"p": 141.766}]},
      "mark": {"type": "rule", "color": "#c0c0c0", "strokeWidth": 1},
      "encoding": {
        "y": {"field": "p", "type": "quantitative"}
      }
    },
    {
      "data": {"name": "candles"},
      "mark": {"type": "rule", "color": "#000000", "strokeWidth": 1},
      "encoding": {
        "x": {
          "field": "i",
          "type": "quantitative",
          "scale": {"domain": [-0.25, 935.5], "nice": false, "zero": false},
          "axis": {
            "orient": "bottom",
            "title": null,
            "values": [0, 16, 32, 48, 64, 80, 96, 112, 128, 144, 160, 176, 192, 208, 224, 240, 256, 272, 288, 304, 320, 336, 352, 368, 384, 400, 416, 432, 448, 464, 480, 496, 512, 528, 544, 560, 576, 592, 608, 624, 640, 656, 672, 688, 704, 720, 736, 752, 768, 784, 800, 816, 832, 848, 864, 880, 896, 912, 928],
            "grid": true,
            "gridColor": "#c4c4c4",
            "gridDash": [4, 4],
            "gridWidth": 1,
            "domainColor": "#000000",
            "domainWidth": 1,
            "tickColor": "#000000",
            "tickSize": 5,
            "tickOpacity": {"condition": {"test": "datum.value % 32 === 0 && datum.value <= 800", "value": 1}, "value": 0},
            "labelExpr": "datum.value % 32 === 0 && datum.value <= 800 ? ['31 Jan 2023','7 Feb 08:00','14 Feb 16:00','22 Feb 00:00','1 Mar 08:00','8 Mar 16:00','16 Mar 00:00','23 Mar 08:00','30 Mar 16:00','7 Apr 00:00','14 Apr 08:00','21 Apr 16:00','1 May 00:00','8 May 08:00','15 May 16:00','23 May 00:00','30 May 08:00','6 Jun 16:00','14 Jun 00:00','21 Jun 08:00','28 Jun 16:00','6 Jul 00:00','13 Jul 08:00','20 Jul 16:00','28 Jul 00:00','4 Aug 08:00'][datum.value / 32] : ''",
            "labelAlign": "left",
            "labelBaseline": "top",
            "labelPadding": 2,
            "labelFont": "Liberation Sans",
            "labelFontSize": 18,
            "labelColor": "#000000",
            "labelOverlap": false,
            "labelFlush": false,
            "labelBound": false
          }
        },
        "y": {"field": "l", "type": "quantitative"},
        "y2": {"field": "h"}
      }
    },
    {
      "data": {"name": "candles"},
      "mark": {"type": "bar", "size": 5, "stroke": "#000000", "strokeWidth": 1},
      "encoding": {
        "x": {"field": "i", "type": "quantitative"},
        "y": {"field": "o", "type": "quantitative"},
        "y2": {"field": "c"},
        "fill": {"condition": {"test": "datum.c >= datum.o", "value": "#ffffff"}, "value": "#000000"}
      }
    },
    {
      "data": {"name": "arcs"},
      "mark": {"type": "line", "color": "#f4a91a", "strokeWidth": 4.5, "interpolate": "catmull-rom"},
      "encoding": {
        "x": {"field": "i", "type": "quantitative"},
        "y": {"field": "p", "type": "quantitative"},
        "detail": {"field": "s", "type": "nominal"},
        "order": {"field": "k", "type": "quantitative"}
      }
    },
    {
      "data": {"values": [{"i": 793.4, "p": 143.93}]},
      "mark": {"type": "point", "shape": "triangle-up", "filled": true, "opacity": 1, "size": 280, "angle": 66, "color": "#f4a91a"},
      "encoding": {
        "x": {"field": "i", "type": "quantitative"},
        "y": {"field": "p", "type": "quantitative"}
      }
    },
    {
      "data": {"values": [{"i": 797.6, "p": 143.90}]},
      "mark": {"type": "point", "shape": "triangle-up", "filled": true, "opacity": 1, "size": 280, "angle": 354, "color": "#f4a91a"},
      "encoding": {
        "x": {"field": "i", "type": "quantitative"},
        "y": {"field": "p", "type": "quantitative"}
      }
    },
    {
      "data": {"values": [{"k": 1, "i": 806.3, "p": 141.74}, {"k": 2, "i": 842.4, "p": 139.21}]},
      "mark": {"type": "line", "color": "#ef4444", "strokeWidth": 5.5},
      "encoding": {
        "x": {"field": "i", "type": "quantitative"},
        "y": {"field": "p", "type": "quantitative"},
        "order": {"field": "k", "type": "quantitative"}
      }
    },
    {
      "data": {"values": [{"k": 1, "i": 845.5, "p": 139.04}, {"k": 2, "i": 855.0, "p": 138.42}]},
      "mark": {"type": "line", "color": "#ef4444", "strokeWidth": 5.5, "strokeDash": [14, 8]},
      "encoding": {
        "x": {"field": "i", "type": "quantitative"},
        "y": {"field": "p", "type": "quantitative"},
        "order": {"field": "k", "type": "quantitative"}
      }
    },
    {
      "data": {"values": [{"i": 842.8, "p": 139.19}]},
      "mark": {"type": "point", "shape": "triangle-up", "filled": true, "opacity": 1, "size": 480, "angle": 154, "color": "#ef4444"},
      "encoding": {
        "x": {"field": "i", "type": "quantitative"},
        "y": {"field": "p", "type": "quantitative"}
      }
    },
    {
      "data": {"values": [{"i": 855.6, "p": 138.39}]},
      "mark": {"type": "point", "shape": "triangle-up", "filled": true, "opacity": 1, "size": 480, "angle": 150, "color": "#ef4444"},
      "encoding": {
        "x": {"field": "i", "type": "quantitative"},
        "y": {"field": "p", "type": "quantitative"}
      }
    },
    {
      "data": {"values": [{"i": 845}]},
      "mark": {"type": "rule", "color": "#e00000", "strokeWidth": 1.5},
      "encoding": {
        "x": {"field": "i", "type": "quantitative"}
      }
    },
    {
      "data": {"name": "levels"},
      "mark": {"type": "text", "align": "center", "baseline": "top", "dy": 3, "fontSize": 20, "font": "Liberation Sans"},
      "encoding": {
        "x": {"datum": 777.3, "type": "quantitative"},
        "y": {"field": "p", "type": "quantitative"},
        "text": {"field": "t"},
        "color": {"field": "t", "type": "nominal", "legend": null}
      }
    },
    {
      "data": {"name": "levels"},
      "mark": {"type": "tick", "orient": "horizontal", "size": 80, "thickness": 22, "opacity": 1},
      "encoding": {
        "x": {"datum": 946, "type": "quantitative"},
        "y": {"field": "p", "type": "quantitative"},
        "color": {"field": "t", "type": "nominal", "legend": null}
      }
    },
    {
      "data": {"name": "levels"},
      "mark": {"type": "text", "align": "center", "baseline": "middle", "fontSize": 18, "color": "#ffffff", "font": "Liberation Sans"},
      "encoding": {
        "x": {"datum": 946, "type": "quantitative"},
        "y": {"field": "p", "type": "quantitative"},
        "text": {"field": "p", "type": "quantitative", "format": ".3f"}
      }
    },
    {
      "data": {"values": [{"p": 141.766}]},
      "mark": {"type": "tick", "orient": "horizontal", "size": 80, "thickness": 22, "opacity": 1, "color": "#000000"},
      "encoding": {
        "x": {"datum": 946, "type": "quantitative"},
        "y": {"field": "p", "type": "quantitative"}
      }
    },
    {
      "data": {"values": [{"p": 141.766}]},
      "mark": {"type": "text", "align": "center", "baseline": "middle", "fontSize": 18, "color": "#ffffff", "font": "Liberation Sans"},
      "encoding": {
        "x": {"datum": 946, "type": "quantitative"},
        "y": {"field": "p", "type": "quantitative"},
        "text": {"field": "p", "type": "quantitative", "format": ".3f"}
      }
    },
    {
      "data": {"values": [{"i": 845, "p": 127.498, "t": "2023.08.11 20:00"}]},
      "mark": {"type": "tick", "orient": "horizontal", "size": 159, "thickness": 23, "opacity": 1, "color": "#ff0000"},
      "encoding": {
        "x": {"field": "i", "type": "quantitative"},
        "y": {"field": "p", "type": "quantitative"}
      }
    },
    {
      "data": {"values": [{"i": 845, "p": 127.498, "t": "2023.08.11 20:00"}]},
      "mark": {"type": "text", "align": "center", "baseline": "middle", "fontSize": 18, "color": "#ffffff", "font": "Liberation Sans"},
      "encoding": {
        "x": {"field": "i", "type": "quantitative"},
        "y": {"field": "p", "type": "quantitative"},
        "text": {"field": "t"}
      }
    },
    {
      "data": {"values": [{"i": 295, "p": 144.72, "t": "Волновой анализ USDJPY H4"}]},
      "mark": {"type": "text", "align": "center", "baseline": "alphabetic", "dx": 5, "dy": 6, "fontSize": 70, "font": "DejaVu Serif", "fontStyle": "italic", "color": "#9a9a9a", "opacity": 0.55},
      "encoding": {
        "x": {"field": "i", "type": "quantitative"},
        "y": {"field": "p", "type": "quantitative"},
        "text": {"field": "t"}
      }
    },
    {
      "data": {"values": [{"i": 295, "p": 144.72, "t": "Волновой анализ USDJPY H4"}]},
      "mark": {"type": "text", "align": "center", "baseline": "alphabetic", "fontSize": 70, "font": "DejaVu Serif", "fontStyle": "italic", "color": "#111111"},
      "encoding": {
        "x": {"field": "i", "type": "quantitative"},
        "y": {"field": "p", "type": "quantitative"},
        "text": {"field": "t"}
      }
    },
    {
      "data": {"values": [{"i": 295, "p": 142.965, "t": "( 6 августа 2023 г.)"}]},
      "mark": {"type": "text", "align": "center", "baseline": "alphabetic", "dx": 4, "dy": 5, "fontSize": 56, "font": "DejaVu Serif", "fontStyle": "italic", "color": "#9a9a9a", "opacity": 0.55},
      "encoding": {
        "x": {"field": "i", "type": "quantitative"},
        "y": {"field": "p", "type": "quantitative"},
        "text": {"field": "t"}
      }
    },
    {
      "data": {"values": [{"i": 295, "p": 142.965, "t": "( 6 августа 2023 г.)"}]},
      "mark": {"type": "text", "align": "center", "baseline": "alphabetic", "fontSize": 56, "font": "DejaVu Serif", "fontStyle": "italic", "color": "#111111"},
      "encoding": {
        "x": {"field": "i", "type": "quantitative"},
        "y": {"field": "p", "type": "quantitative"},
        "text": {"field": "t"}
      }
    },
    {
      "data": {"values": [{"i": 1.0, "p": 145.771, "t": "▼"}]},
      "mark": {"type": "text", "align": "center", "baseline": "alphabetic", "fontSize": 13, "font": "DejaVu Sans", "color": "#000000"},
      "encoding": {
        "x": {"field": "i", "type": "quantitative"},
        "y": {"field": "p", "type": "quantitative"},
        "text": {"field": "t"}
      }
    },
    {
      "data": {"values": [{"i": 7, "p": 145.771, "t": "USDJPY,H4  141.837 141.885 141.744 141.766"}]},
      "mark": {"type": "text", "align": "left", "baseline": "alphabetic", "fontSize": 18, "font": "Liberation Sans", "color": "#000000"},
      "encoding": {
        "x": {"field": "i", "type": "quantitative"},
        "y": {"field": "p", "type": "quantitative"},
        "text": {"field": "t"}
      }
    }
  ]
}
